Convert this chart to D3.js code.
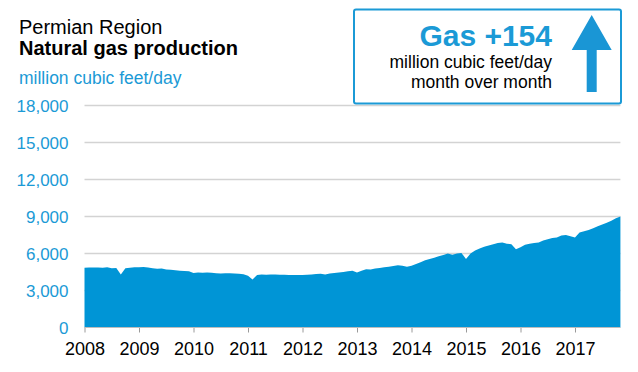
<!DOCTYPE html>
<html>
<head>
<meta charset="utf-8">
<script src="https://cdn.jsdelivr.net/npm/d3@7"></script>
<style>
  html, body { margin: 0; padding: 0; background: #fff; }
  svg { display: block; font-family: "Liberation Sans", Arial, sans-serif; }
</style>
</head>
<body>
<svg id="chart" width="638" height="372"></svg>
<script>
// ---- data (million cubic feet/day, monthly, Jan 2008 – Nov 2017) ----
const startYear = 2008;
const gas2008 = [4850, 4870, 4860, 4860, 4850, 4880, 4800, 4820, 4300, 4800, 4850, 4880];
const gas2009 = [4890, 4900, 4870, 4800, 4760, 4780, 4700, 4680, 4650, 4600, 4580, 4560];
const gas2010 = [4420, 4450, 4440, 4460, 4430, 4400, 4380, 4400, 4390, 4380, 4360, 4320];
const gas2011 = [4200, 3900, 4250, 4300, 4280, 4300, 4290, 4280, 4270, 4260, 4250, 4260];
const gas2012 = [4250, 4280, 4300, 4330, 4350, 4300, 4380, 4420, 4450, 4500, 4560, 4600];
const gas2013 = [4450, 4600, 4720, 4700, 4780, 4820, 4880, 4920, 4980, 5050, 5000, 4920];
const gas2014 = [5000, 5150, 5300, 5450, 5550, 5650, 5780, 5880, 5990, 5900, 6000, 6050];
const gas2015 = [5550, 6000, 6250, 6400, 6550, 6650, 6750, 6850, 6900, 6800, 6750, 6350];
const gas2016 = [6500, 6700, 6800, 6850, 6900, 7050, 7150, 7250, 7300, 7450, 7500, 7400];
const gas2017 = [7300, 7700, 7800, 7900, 8050, 8200, 8350, 8500, 8650, 8850, 9000];

const yTicks = [0, 3000, 6000, 9000, 12000, 15000, 18000];
const xTicks = [2008, 2009, 2010, 2011, 2012, 2013, 2014, 2015, 2016, 2017];

const titleLine1 = "Permian Region";
const titleLine2 = "Natural gas production";
const unitLabel = "million cubic feet/day";
const boxHeadline = "Gas +154";
const boxLine1 = "million cubic feet/day";
const boxLine2 = "month over month";

// ---- build series ----
const values = [].concat(gas2008, gas2009, gas2010, gas2011, gas2012,
                         gas2013, gas2014, gas2015, gas2016, gas2017);
const series = values.map((v, i) => ({ t: startYear + i / 12, v }));

const blue = "#0095d6";
const textBlue = "#1b9ad6";

const svg = d3.select("#chart");

const x = d3.scaleLinear().domain([2008, 2018]).range([84.5, 629.5]);
const y = d3.scaleLinear().domain([0, 18000]).range([327.5, 105.5]);
const plotRight = x(series[series.length - 1].t);

// gridlines
svg.append("g").selectAll("line")
  .data(yTicks.filter(d => d > 0))
  .join("line")
  .attr("x1", x(2008)).attr("x2", plotRight)
  .attr("y1", d => y(d)).attr("y2", d => y(d))
  .attr("stroke", "#d3d3d3").attr("stroke-width", 1.5);

// area
const area = d3.area()
  .x(d => x(d.t))
  .y0(y(0))
  .y1(d => y(d.v));
svg.append("path").datum(series)
  .attr("d", area)
  .attr("fill", blue);

// y axis labels
const yAxis = d3.axisLeft(y).tickValues(yTicks).tickSize(0).tickPadding(0)
  .tickFormat(d3.format(","));
const gy = svg.append("g").attr("transform", "translate(68.5,0)").call(yAxis);
gy.select(".domain").remove();
gy.selectAll("text")
  .attr("fill", textBlue)
  .attr("font-size", "17px")
  .attr("font-family", "'Liberation Sans', Arial, sans-serif")
  .attr("dy", "0.33em");

// x axis
const xAxis = d3.axisBottom(x).tickValues(xTicks).tickSize(5).tickPadding(10)
  .tickFormat(d3.format("d"));
const gx = svg.append("g").attr("transform", `translate(0,${y(0)})`).call(xAxis);
gx.select(".domain").remove();
gx.append("line").attr("x1", x(2008)).attr("x2", plotRight)
  .attr("y1", 0).attr("y2", 0).attr("stroke", "#bdbdbd").attr("stroke-width", 1.2);
gx.selectAll(".tick line").attr("stroke", "#9a9a9a");
gx.selectAll("text")
  .attr("fill", "#000")
  .attr("font-size", "18px")
  .attr("font-family", "'Liberation Sans', Arial, sans-serif");

// titles
svg.append("text").attr("x", 19).attr("y", 34)
  .attr("font-size", "20px").attr("fill", "#000").text(titleLine1);
svg.append("text").attr("x", 19).attr("y", 55)
  .attr("font-size", "20px").attr("font-weight", "bold").attr("fill", "#000").text(titleLine2);
svg.append("text").attr("x", 19).attr("y", 84)
  .attr("font-size", "17.5px").attr("fill", textBlue).text(unitLabel);

// callout box
svg.append("rect").attr("x", 354).attr("y", 9.5).attr("width", 267).attr("height", 94)
  .attr("rx", 2).attr("fill", "#fff").attr("stroke", textBlue).attr("stroke-width", 2);
svg.append("text").attr("x", 552).attr("y", 46).attr("text-anchor", "end")
  .attr("font-size", "30px").attr("font-weight", "bold").attr("fill", textBlue).text(boxHeadline);
svg.append("text").attr("x", 552).attr("y", 68).attr("text-anchor", "end")
  .attr("font-size", "17.5px").attr("fill", "#000").text(boxLine1);
svg.append("text").attr("x", 552).attr("y", 88).attr("text-anchor", "end")
  .attr("font-size", "17.5px").attr("fill", "#000").text(boxLine2);

// arrow
const arrow = d3.path();
arrow.moveTo(591.7, 15);
arrow.lineTo(611.7, 50);
arrow.lineTo(596.7, 50);
arrow.lineTo(596.7, 92);
arrow.lineTo(586.7, 92);
arrow.lineTo(586.7, 50);
arrow.lineTo(571.7, 50);
arrow.closePath();
svg.append("path").attr("d", arrow.toString()).attr("fill", "#1a96d5");
</script>
</body>
</html>
